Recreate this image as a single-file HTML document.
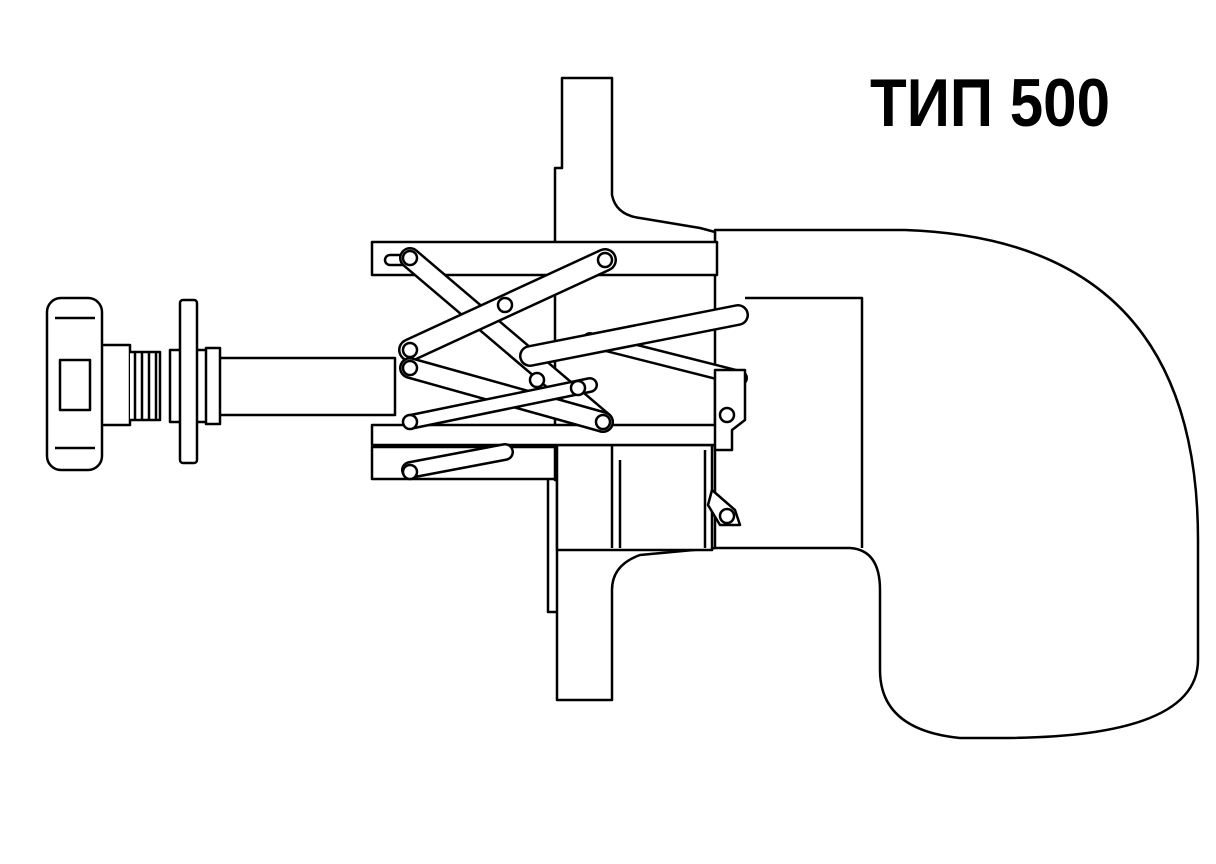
<!DOCTYPE html>
<html><head><meta charset="utf-8"><style>
html,body{margin:0;padding:0;background:#fff;width:1216px;height:864px;overflow:hidden}
svg{display:block}
</style></head><body>
<svg width="1216" height="864" viewBox="0 0 1216 864" xmlns="http://www.w3.org/2000/svg">
<g fill="#fff" stroke="#000" stroke-width="2.5" stroke-linejoin="round">
<!-- elbow -->
<path d="M715 230 L905 230 Q1198 240 1198 540 L1198 660 Q1198 738 1000 738 L960 738 Q880 730 880 670 L880 590 Q880 550 850 548 L710 548 Z"/>
<path d="M745 298 L862 298 L862 548" fill="none"/>
<!-- flange plate -->
<path d="M562 78 L612 78 L612 195 Q616 215 640 218 L700 228 L715 232 L715 548 L640 555 Q612 565 612 590 L612 700 L557 700 L557 480 L555 480 L555 168 L562 168 Z"/>
<path d="M548 480 L548 612 L557 612" fill="none"/>
<!-- housing below -->
<rect x="557" y="445" width="155" height="105"/>
<path d="M612 445 L612 548 M620 460 L620 548" fill="none"/>
<path d="M705 450 L705 548" fill="none"/>
<!-- shaft -->
<rect x="215" y="358" width="180" height="57"/>
<rect x="170" y="350" width="48" height="72"/>
<rect x="180" y="300" width="17" height="163" rx="3"/>
<rect x="100" y="345" width="30" height="80"/>
<path d="M130 352 L160 352 L160 420 L130 420" />
<path d="M135 352 L135 420 M142 352 L142 420 M149 352 L149 420 M156 352 L156 420" fill="none"/>
<rect x="206" y="348" width="14" height="76"/>
<!-- knob -->
<rect x="47" y="298" width="55" height="172" rx="14"/>
<path d="M55 318 L95 318 M55 448 L95 448 M60 360 L90 360 L90 410 L60 410 Z" fill="none"/>
<!-- frames -->
<rect x="372" y="242" width="345" height="33"/>
<rect x="372" y="425" width="350" height="20"/>
<rect x="372" y="447" width="183" height="32"/>
<rect x="385" y="255" width="25" height="10" rx="5"/>
<!-- back diagonal bars -->
<g stroke-linecap="round">
<line x1="410" y1="258" x2="603" y2="422" stroke-width="22"/>
<line x1="410" y1="258" x2="603" y2="422" stroke="#fff" stroke-width="17"/>
<line x1="590" y1="340" x2="740" y2="378" stroke-width="16"/>
<line x1="590" y1="340" x2="740" y2="378" stroke="#fff" stroke-width="11"/>
</g>
<!-- right plate -->
<path d="M715 370 L745 370 L745 420 L732 430 L732 450 L715 450 Z"/>
<path d="M712 490 L735 510 L740 525 L720 525 L708 505 Z"/>
<!-- bars -->
<g stroke-linecap="round">
<line x1="605" y1="260" x2="410" y2="350" stroke-width="24"/>
<line x1="605" y1="260" x2="410" y2="350" stroke="#fff" stroke-width="19"/>
<line x1="410" y1="368" x2="603" y2="422" stroke-width="22"/>
<line x1="410" y1="368" x2="603" y2="422" stroke="#fff" stroke-width="17"/>
<line x1="410" y1="422" x2="590" y2="385" stroke-width="16"/>
<line x1="410" y1="422" x2="590" y2="385" stroke="#fff" stroke-width="11"/>
<line x1="530" y1="356" x2="738" y2="315" stroke-width="22"/>
<line x1="530" y1="356" x2="738" y2="315" stroke="#fff" stroke-width="17"/>
<line x1="410" y1="470" x2="505" y2="452" stroke-width="18"/>
<line x1="410" y1="470" x2="505" y2="452" stroke="#fff" stroke-width="13"/>
</g>
<!-- pins -->
<g stroke-width="2.5">
<circle cx="410" cy="258" r="7"/><circle cx="605" cy="260" r="7"/><circle cx="505" cy="305" r="7"/>
<circle cx="410" cy="350" r="7"/><circle cx="410" cy="368" r="7"/><circle cx="410" cy="422" r="7"/>
<circle cx="603" cy="422" r="7"/><circle cx="537" cy="380" r="7"/><circle cx="578" cy="388" r="7"/>
<circle cx="727" cy="415" r="7"/><circle cx="727" cy="516" r="7"/><circle cx="410" cy="472" r="7"/>
</g>
</g>
<text x="870" y="126" font-family="'Liberation Sans', sans-serif" font-weight="bold" font-size="68" textLength="240" lengthAdjust="spacingAndGlyphs">ТИП 500</text>
</svg>
</body></html>
